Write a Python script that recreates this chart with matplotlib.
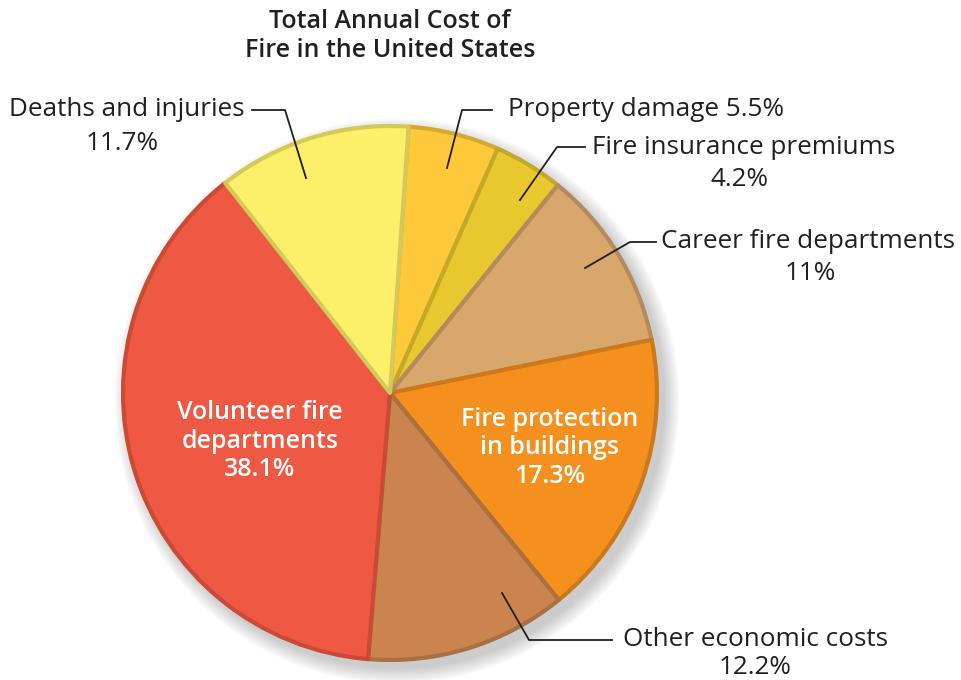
import matplotlib.pyplot as plt
import matplotlib.colors as mcolors
from matplotlib.patches import Circle

plt.rcParams['font.family'] = ['Open Sans', 'DejaVu Sans']

# data, clockwise from 12 o'clock
categories = ['Property damage', 'Fire insurance premiums', 'Career fire departments',
              'Fire protection in buildings', 'Other economic costs',
              'Volunteer fire departments', 'Deaths and injuries']
shares = [5.5, 4.2, 11.0, 17.3, 12.2, 38.1, 11.7]
colors = ['#FDC93A', '#E9C82F', '#D9A66C', '#F5901E', '#CB844E', '#EF5842', '#FCEF6A']

W, H = 962, 680
fig = plt.figure(figsize=(W / 100, H / 100), dpi=100)
ax = fig.add_axes([0, 0, 1, 1])

cx, cy, r = 390, H - 393, 267


def darker(c, f=0.84):
    rgb = mcolors.to_rgb(c)
    return tuple(v * f for v in rgb)


# soft shadow to the lower right
for i in range(10):
    ax.add_patch(Circle((cx + 7, cy - 8), r + 1 + i * 1.6, color='#555555',
                        alpha=0.03, lw=0, zorder=0))

wedges, _ = ax.pie(shares, colors=colors, startangle=86, counterclock=False,
                   center=(cx, cy), radius=r,
                   wedgeprops=dict(linewidth=3, joinstyle='round'))
for w, c in zip(wedges, colors):
    w.set_edgecolor(darker(c))
    w.set_zorder(2)

ax.set_xlim(0, W)
ax.set_ylim(0, H)
ax.set_aspect('equal')
ax.axis('off')


def y(p):
    return H - p


# title
ax.text(390, y(36), 'Total Annual Cost of\nFire in the United States', ha='center',
        va='center', fontsize=18, fontweight='semibold', color='#231F20',
        linespacing=1.25)

fs = 18.8
txt = '#231F20'

# outside labels with leader lines
ax.text(245, y(110), 'Deaths and injuries', ha='right', va='center', fontsize=fs, color=txt)
ax.text(122, y(143), f'{shares[6]}%', ha='center', va='center', fontsize=fs, color=txt)
ax.plot([252, 285, 306], [y(110), y(110), y(178)], color=txt, lw=1.3, zorder=3)

ax.text(508, y(110), f'Property damage {shares[0]}%', ha='left', va='center', fontsize=fs, color=txt)
ax.plot([492, 462, 447], [y(110), y(110), y(168)], color=txt, lw=1.3, zorder=3)

ax.text(592, y(147), 'Fire insurance premiums', ha='left', va='center', fontsize=fs, color=txt)
ax.text(740, y(180), f'{shares[1]}%', ha='center', va='center', fontsize=fs, color=txt)
ax.plot([585, 557, 520], [y(147), y(147), y(200)], color=txt, lw=1.3, zorder=3)

ax.text(661, y(242), 'Career fire departments', ha='left', va='center', fontsize=fs, color=txt)
ax.text(810, y(273), f'{shares[2]:g}%', ha='center', va='center', fontsize=fs, color=txt)
ax.plot([656, 630, 585], [y(242), y(242), y(268)], color=txt, lw=1.3, zorder=3)

ax.text(623, y(640), 'Other economic costs', ha='left', va='center', fontsize=fs, color=txt)
ax.text(755, y(668), f'{shares[4]}%', ha='center', va='center', fontsize=fs, color=txt)
ax.plot([502, 529, 612], [y(593), y(640), y(640)], color=txt, lw=1.3, zorder=3)

# inside labels
ax.text(260, y(441), f'Volunteer fire\ndepartments\n{shares[5]}%', ha='center', va='center',
        fontsize=18, color='white', fontweight='semibold', linespacing=1.2, zorder=4)
ax.text(550, y(448), f'Fire protection\nin buildings\n{shares[3]}%', ha='center', va='center',
        fontsize=18, color='white', fontweight='semibold', linespacing=1.2, zorder=4)

fig.savefig('out.png', dpi=100, facecolor='white')
